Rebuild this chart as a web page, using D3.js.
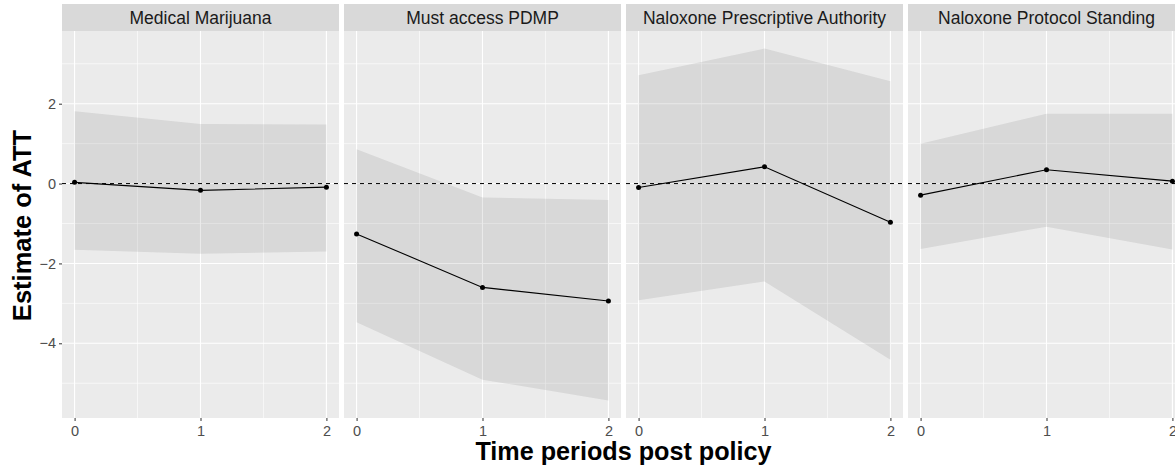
<!DOCTYPE html>
<html><head><meta charset="utf-8">
<script src="https://cdn.jsdelivr.net/npm/d3@7"></script>
<style>body{margin:0;background:#fff}svg{display:block}text{font-family:"Liberation Sans",Arial,sans-serif}</style>
</head><body>
<script>
const policies = ["Medical Marijuana","Must access PDMP","Naloxone Prescriptive Authority","Naloxone Protocol Standing"];
const periods = [0,1,2];
const estMM = [0.03,-0.17,-0.09];
const loMM  = [-1.66,-1.76,-1.70];
const hiMM  = [1.81,1.49,1.48];
const estPDMP = [-1.26,-2.60,-2.94];
const loPDMP  = [-3.47,-4.91,-5.43];
const hiPDMP  = [0.86,-0.35,-0.41];
const estNPA = [-0.10,0.42,-0.97];
const loNPA  = [-2.92,-2.45,-4.41];
const hiNPA  = [2.71,3.38,2.56];
const estNPS = [-0.29,0.345,0.06];
const loNPS  = [-1.64,-1.08,-1.65];
const hiNPS  = [1.00,1.75,1.75];
const yTicks = [-4,-2,0,2];
const yMinor = [-5,-3,-1,1,3];
const xTicks = [0,1,2];
const xMinor = [0.5,1.5];

const series = [
  {name:policies[0], est:estMM, lo:loMM, hi:hiMM},
  {name:policies[1], est:estPDMP, lo:loPDMP, hi:hiPDMP},
  {name:policies[2], est:estNPA, lo:loNPA, hi:hiNPA},
  {name:policies[3], est:estNPS, lo:loNPS, hi:hiNPS}
];

const W = 1175, H = 467;
const svg = d3.select("body").append("svg").attr("width",W).attr("height",H);

const left0 = 62, panelW = 277, gap = 5;
const stripTop = 4, stripH = 27, panelTop = 31, panelBottom = 418;

const allVals = series.flatMap(s => s.lo.concat(s.hi, s.est));
const ymin = d3.min(allVals), ymax = d3.max(allVals);
const ypad = (ymax - ymin) * 0.05;
const y = d3.scaleLinear().domain([ymin - ypad, ymax + ypad]).range([panelBottom, panelTop]);

series.forEach((s, i) => {
  const x0 = left0 + i * (panelW + gap);
  const x = d3.scaleLinear().domain([-0.1, 2.1]).range([x0, x0 + panelW]);
  const g = svg.append("g");
  g.append("rect").attr("x", x0).attr("y", panelTop).attr("width", panelW).attr("height", panelBottom - panelTop).attr("fill", "#EBEBEB");
  g.append("rect").attr("x", x0).attr("y", stripTop).attr("width", panelW).attr("height", stripH).attr("fill", "#D9D9D9");
  g.append("text").attr("x", x0 + panelW / 2).attr("y", stripTop + stripH / 2).attr("dy", "0.36em")
    .attr("text-anchor", "middle").attr("font-size", 17.5).attr("fill", "#1A1A1A").text(s.name);
  yMinor.forEach(v => g.append("line").attr("x1", x0).attr("x2", x0 + panelW).attr("y1", y(v)).attr("y2", y(v)).attr("stroke", "#fff").attr("stroke-width", 0.6));
  xMinor.forEach(v => g.append("line").attr("x1", x(v)).attr("x2", x(v)).attr("y1", panelTop).attr("y2", panelBottom).attr("stroke", "#fff").attr("stroke-width", 0.6));
  yTicks.forEach(v => g.append("line").attr("x1", x0).attr("x2", x0 + panelW).attr("y1", y(v)).attr("y2", y(v)).attr("stroke", "#fff").attr("stroke-width", 1.1));
  xTicks.forEach(v => g.append("line").attr("x1", x(v)).attr("x2", x(v)).attr("y1", panelTop).attr("y2", panelBottom).attr("stroke", "#fff").attr("stroke-width", 1.1));
  const rib = periods.map((p, k) => ({p, lo: s.lo[k], hi: s.hi[k]}));
  g.append("path").datum(rib)
    .attr("d", d3.area().x(d => x(d.p)).y0(d => y(d.lo)).y1(d => y(d.hi)))
    .attr("fill", "#333333").attr("fill-opacity", 0.1);
  g.append("line").attr("x1", x0).attr("x2", x0 + panelW).attr("y1", y(0)).attr("y2", y(0))
    .attr("stroke", "#000").attr("stroke-width", 1).attr("stroke-dasharray", "4,4");
  const pts = periods.map((p, k) => ({p, v: s.est[k]}));
  g.append("path").datum(pts).attr("d", d3.line().x(d => x(d.p)).y(d => y(d.v)))
    .attr("fill", "none").attr("stroke", "#000").attr("stroke-width", 1.1);
  g.selectAll("circle").data(pts).join("circle").attr("cx", d => x(d.p)).attr("cy", d => y(d.v)).attr("r", 2.5).attr("fill", "#000");
  const xa = g.append("g").attr("transform", `translate(0,${panelBottom})`)
    .call(d3.axisBottom(x).tickValues(xTicks).tickFormat(d3.format("d")).tickSize(3).tickPadding(5));
  xa.select(".domain").remove();
  xa.selectAll("line").attr("stroke", "#333333");
  xa.selectAll("text").attr("font-size", 14.5).attr("fill", "#4D4D4D").attr("font-family", "Liberation Sans, Arial, sans-serif");
  if (i === 0) {
    const ya = g.append("g").attr("transform", `translate(${x0},0)`)
      .call(d3.axisLeft(y).tickValues(yTicks).tickFormat(d => d < 0 ? "\u2212" + Math.abs(d) : String(d)).tickSize(3).tickPadding(3));
    ya.select(".domain").remove();
    ya.selectAll("line").attr("stroke", "#333333");
    ya.selectAll("text").attr("font-size", 14.5).attr("fill", "#4D4D4D").attr("font-family", "Liberation Sans, Arial, sans-serif");
  }
});

const totalRight = left0 + 4 * panelW + 3 * gap;
svg.append("text").attr("x", (left0 + totalRight) / 2).attr("y", 460)
  .attr("text-anchor", "middle").attr("font-size", 25.2).attr("font-weight", "bold").attr("fill", "#000").text("Time periods post policy");
svg.append("text").attr("transform", `translate(31,${(panelTop + panelBottom) / 2 + 1}) rotate(-90)`)
  .attr("text-anchor", "middle").attr("font-size", 25.5).attr("font-weight", "bold").attr("fill", "#000").text("Estimate of ATT");
</script>
</body></html>
